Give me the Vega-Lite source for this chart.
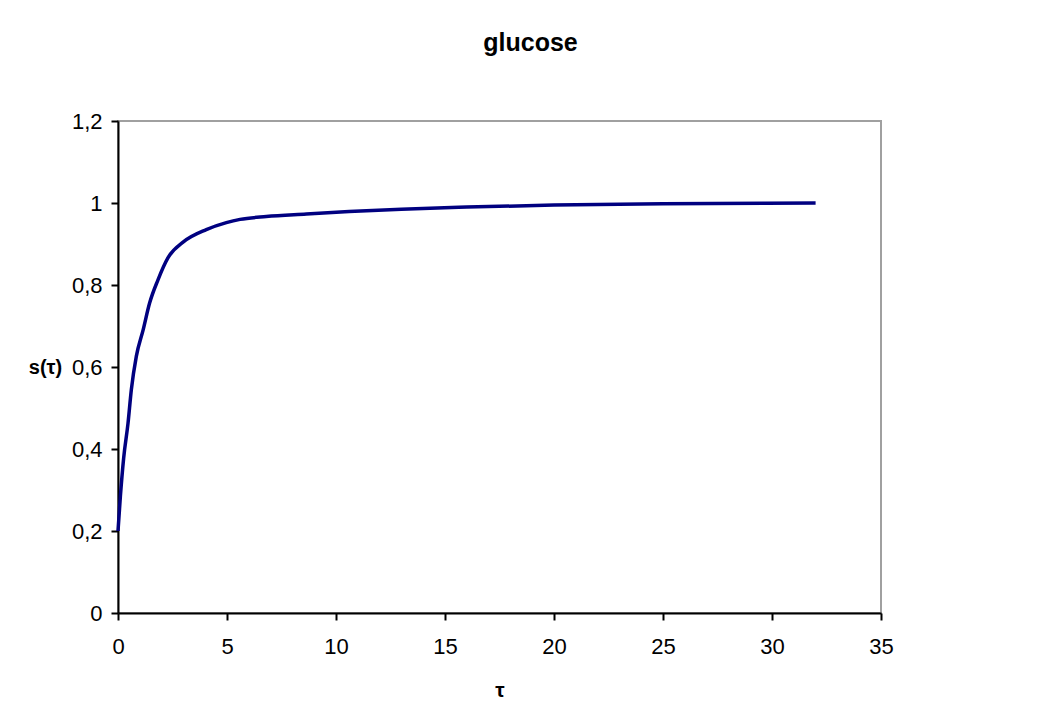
{
  "$schema": "https://vega.github.io/schema/vega-lite/v6.json",
  "autosize": "none",
  "padding": {"left": 118, "top": 121, "right": 167, "bottom": 112},
  "width": 763,
  "height": 492,
  "background": "white",
  "title": {
    "text": "glucose",
    "font": "Liberation Sans",
    "fontSize": 25,
    "fontWeight": "bold",
    "color": "black",
    "anchor": "middle",
    "dx": 31,
    "baseline": "alphabetic",
    "offset": 34
  },
  "data": {
    "values": [
      {"t": 0, "s": 0.2},
      {"t": 0.11, "s": 0.285},
      {"t": 0.26, "s": 0.378},
      {"t": 0.46, "s": 0.463},
      {"t": 0.61, "s": 0.544},
      {"t": 0.84, "s": 0.626},
      {"t": 1.15, "s": 0.69},
      {"t": 1.45, "s": 0.756},
      {"t": 1.83, "s": 0.812},
      {"t": 2.29, "s": 0.866},
      {"t": 3.0, "s": 0.905},
      {"t": 4.05, "s": 0.935},
      {"t": 4.97, "s": 0.952},
      {"t": 5.6, "s": 0.96},
      {"t": 6.8, "s": 0.967},
      {"t": 8.64, "s": 0.973},
      {"t": 10.6, "s": 0.979},
      {"t": 13, "s": 0.985},
      {"t": 16, "s": 0.99},
      {"t": 20, "s": 0.995},
      {"t": 25, "s": 0.998},
      {"t": 32, "s": 1.0}
    ]
  },
  "mark": {"type": "line", "color": "#000080", "strokeWidth": 3.5, "interpolate": "monotone"},
  "encoding": {
    "x": {
      "field": "t",
      "type": "quantitative",
      "scale": {"domain": [0, 35], "nice": false, "zero": false},
      "axis": {
        "title": "τ",
        "values": [0, 5, 10, 15, 20, 25, 30, 35],
        "labelFlush": false,
        "titleFont": "Liberation Sans",
        "titleFontSize": 21,
        "titleFontWeight": "bold",
        "titleColor": "black",
        "titleY": 83,
        "titleBaseline": "alphabetic"
      }
    },
    "y": {
      "field": "s",
      "type": "quantitative",
      "scale": {"domain": [0, 1.2], "nice": false},
      "axis": {
        "title": "s(τ)",
        "values": [0, 0.2, 0.4, 0.6, 0.8, 1, 1.2],
        "labelFlush": false,
        "labelExpr": "replace(format(datum.value, '~g'), '.', ',')",
        "titleAngle": 0,
        "titleAlign": "center",
        "titleBaseline": "middle",
        "titleX": -73,
        "titleY": 246,
        "titleFont": "Liberation Sans",
        "titleFontSize": 20,
        "titleFontWeight": "bold",
        "titleColor": "black"
      }
    }
  },
  "config": {
    "view": {"stroke": "#a0a0a0", "strokeWidth": 2},
    "axis": {
      "grid": false,
      "domainColor": "black",
      "domainWidth": 2,
      "tickColor": "black",
      "tickWidth": 2,
      "tickSize": 7,
      "labelFont": "Liberation Sans",
      "labelFontSize": 22,
      "labelColor": "black",
      "labelPadding": 9
    },
    "axisX": {"labelPadding": 16}
  }
}
